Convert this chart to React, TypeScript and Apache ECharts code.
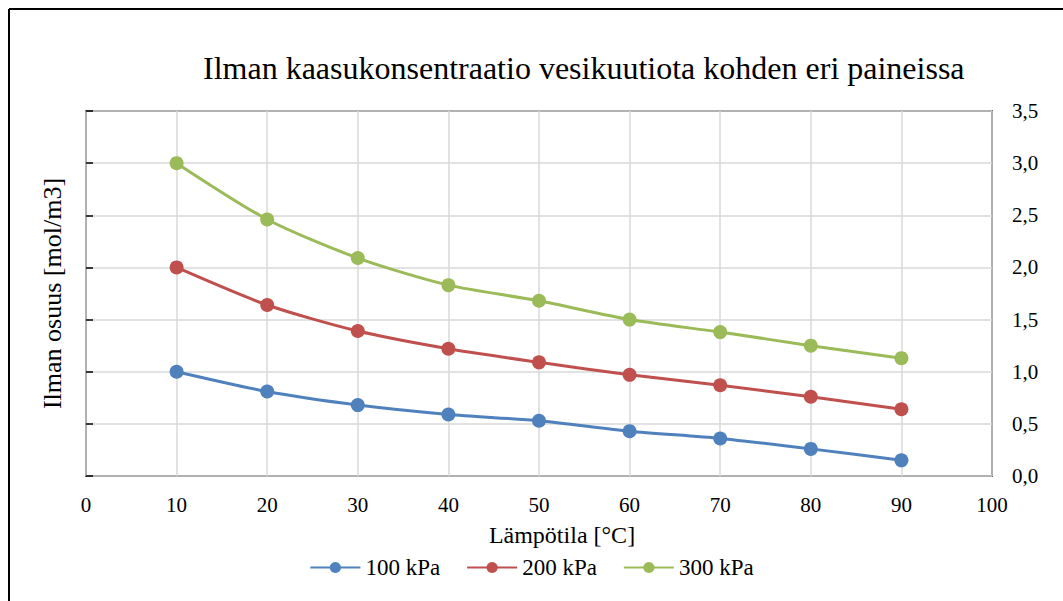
import React, { useEffect, useRef } from "react";
import * as echarts from "echarts";

// Temperature (°C) and air concentration (mol/m3) at three pressures
const temperatures = [10, 20, 30, 40, 50, 60, 70, 80, 90];
const kpa100 = [1.0, 0.81, 0.68, 0.59, 0.53, 0.43, 0.36, 0.26, 0.15];
const kpa200 = [2.0, 1.64, 1.39, 1.22, 1.09, 0.97, 0.87, 0.76, 0.64];
const kpa300 = [3.0, 2.46, 2.09, 1.83, 1.68, 1.5, 1.38, 1.25, 1.13];
const seriesNames = ["100 kPa", "200 kPa", "300 kPa"];
const seriesColors = ["#4F81BD", "#C0504D", "#9BBB59"];

const FONT = "'Liberation Serif', 'Times New Roman', serif";

export default function App() {
  const ref = useRef<HTMLDivElement>(null);

  useEffect(() => {
    if (!ref.current) return;
    const chart = echarts.init(ref.current, undefined, { renderer: "svg" });
    const pairs = (ys: number[]) => temperatures.map((t, i) => [t, ys[i]]);
    const datasets = [kpa100, kpa200, kpa300];

    chart.setOption({
      animation: false,
      backgroundColor: "#fff",
      textStyle: { fontFamily: FONT, color: "#000" },
      title: {
        text: "Ilman kaasukonsentraatio vesikuutiota kohden eri paineissa",
        left: 198,
        top: 47,
        textStyle: { fontFamily: FONT, fontSize: 32, fontWeight: "normal", color: "#000" },
      },
      grid: {
        left: 86,
        right: 71,
        top: 111,
        bottom: 125,
        show: true,
        borderColor: "#000",
        borderWidth: 1.5,
        backgroundColor: "transparent",
      },
      legend: {
        bottom: 17,
        left: "center",
        itemWidth: 50,
        itemHeight: 14,
        itemGap: 26,
        data: seriesNames,
        textStyle: { fontFamily: FONT, fontSize: 23, color: "#000" },
      },
      xAxis: {
        type: "value",
        min: 0,
        max: 100,
        interval: 10,
        name: "Lämpötila [°C]",
        nameLocation: "middle",
        nameGap: 47,
        nameTextStyle: { fontFamily: FONT, fontSize: 24, color: "#000", padding: [0, 0, 0, 46] },
        axisLine: { show: false },
        axisTick: { show: false },
        axisLabel: { fontFamily: FONT, fontSize: 21, color: "#000", margin: 18 },
        splitLine: { show: true, lineStyle: { color: "#d9d9d9", width: 1.5 } },
      },
      yAxis: [
        {
          type: "value",
          position: "left",
          min: 0,
          max: 3.5,
          interval: 0.5,
          name: "Ilman osuus [mol/m3]",
          nameLocation: "middle",
          nameRotate: 90,
          nameGap: 21,
          nameTextStyle: { fontFamily: FONT, fontSize: 26, color: "#000" },
          axisLine: { show: false },
          axisTick: { show: true, inside: true, length: 7, lineStyle: { color: "#000", width: 1.5 } },
          axisLabel: { show: false },
          splitLine: { show: true, lineStyle: { color: "#d9d9d9", width: 1.5 } },
        },
        {
          type: "value",
          position: "right",
          min: 0,
          max: 3.5,
          interval: 0.5,
          axisLine: { show: false },
          axisTick: { show: false },
          splitLine: { show: false },
          axisLabel: {
            fontFamily: FONT,
            fontSize: 21,
            color: "#000",
            margin: 20,
            formatter: (v: number) => v.toFixed(1).replace(".", ","),
          },
        },
      ],
      series: datasets.map((ys, i) => ({
        name: seriesNames[i],
        type: "line",
        yAxisIndex: 0,
        data: pairs(ys),
        smooth: 0.25,
        symbol: "circle",
        symbolSize: 14,
        color: seriesColors[i],
        lineStyle: { width: 3, color: seriesColors[i] },
        itemStyle: { color: seriesColors[i] },
      })),
      graphic: [
        {
          type: "line",
          shape: { x1: 9, y1: 9, x2: 1063, y2: 9 },
          style: { stroke: "#000", lineWidth: 2 },
        },
        {
          type: "line",
          shape: { x1: 9, y1: 9, x2: 9, y2: 601 },
          style: { stroke: "#000", lineWidth: 2 },
        },
      ],
    });

    return () => chart.dispose();
  }, []);

  return (
    <div
      ref={ref}
      style={{ position: "fixed", left: 0, top: 0, width: 1063, height: 601 }}
    />
  );
}
